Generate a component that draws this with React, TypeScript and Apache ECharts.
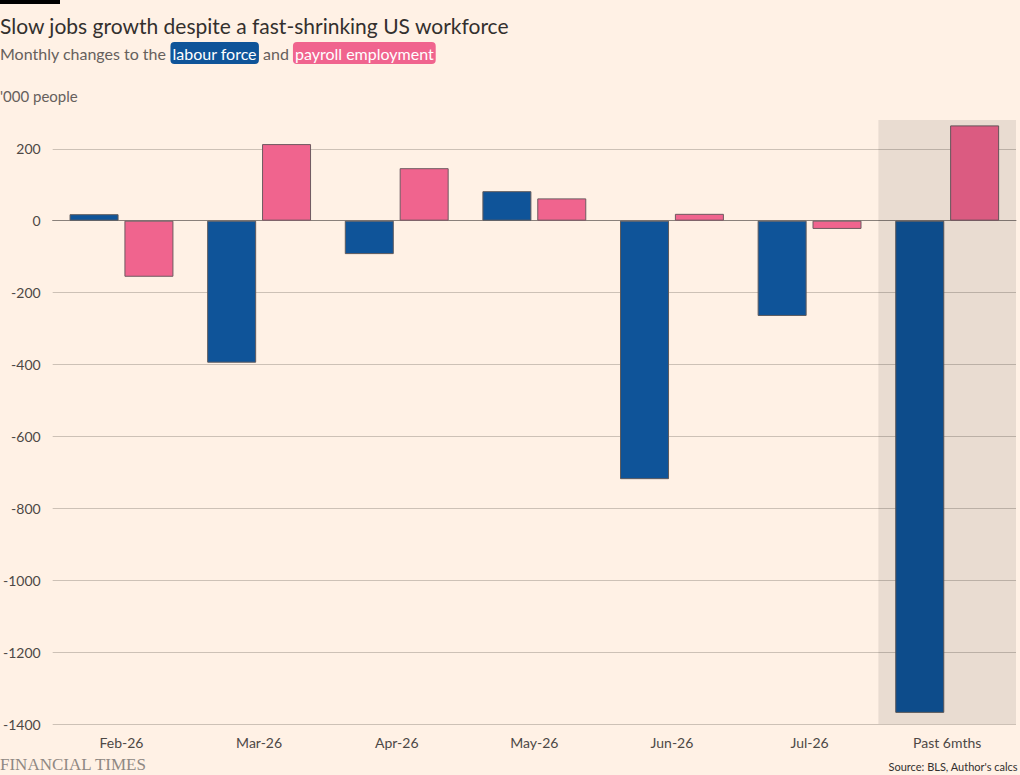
import React, { useEffect, useRef } from "react";
import * as echarts from "echarts";

const categories = ["Feb-26", "Mar-26", "Apr-26", "May-26", "Jun-26", "Jul-26", "Past 6mths"];
const labourForce = [18, -395, -93, 82, -719, -265, -1369];
const payroll = [-156, 213, 146, 62, 19, -23, 265];
// shaded "Past 6mths" band, top and bottom of the value axis
const shadeTop = [null, null, null, null, null, null, 280];
const shadeBottom = [null, null, null, null, null, null, -1400];

const yMin = -1400;
const yMax = 280;
const yStep = 200;

const FONT = "Lato, 'Open Sans', sans-serif";

const App: React.FC = () => {
  const chartRef = useRef<HTMLDivElement>(null);

  useEffect(() => {
    if (!chartRef.current) return;
    const chart = echarts.init(chartRef.current, null, { renderer: "svg" });

    const option: echarts.EChartsOption = {
      animation: false,
      backgroundColor: "#FFF1E5",
      textStyle: { fontFamily: FONT },
      grid: { left: 49, right: 4, top: 120, bottom: 51 },
      xAxis: [
        {
          type: "category",
          data: categories,
          axisLine: { lineStyle: { color: "#8a817b", width: 1 } },
          axisTick: { alignWithLabel: true, length: 6, lineStyle: { color: "#8a817b" } },
          axisLabel: { color: "#4d4845", fontSize: 14, margin: 11, fontFamily: FONT },
        },
        {
          type: "category",
          data: categories,
          show: false,
        },
      ],
      yAxis: {
        type: "value",
        min: yMin,
        max: yMax,
        interval: yStep,
        axisLine: { show: false },
        axisTick: { show: false },
        axisLabel: {
          color: "#4d4845",
          fontSize: 14,
          margin: 12,
          fontFamily: FONT,
          showMaxLabel: false,
          formatter: (v: number) => (v > 200 ? "" : String(v)),
        },
        splitLine: {
          showMaxLine: false,
          lineStyle: { color: "#cdc1b6", width: 1 },
        },
      } as any,
      series: [
        {
          name: "labour force",
          type: "bar",
          data: labourForce,
          barWidth: 49,
          barGap: "12%",
          itemStyle: { color: "#0F5499", borderColor: "#5e5a5c", borderWidth: 1 },
          z: 2,
        },
        {
          name: "payroll employment",
          type: "bar",
          data: payroll,
          barWidth: 49,
          barGap: "12%",
          itemStyle: { color: "#F0648E", borderColor: "#6e5a60", borderWidth: 1 },
          z: 2,
        },
        {
          name: "shadeTop",
          type: "bar",
          xAxisIndex: 1,
          data: shadeTop,
          barWidth: "100%",
          barGap: "-100%",
          itemStyle: { color: "rgba(0,0,0,0.085)" },
          silent: true,
          z: 5,
        },
        {
          name: "shadeBottom",
          type: "bar",
          xAxisIndex: 1,
          data: shadeBottom,
          barWidth: "100%",
          barGap: "-100%",
          itemStyle: { color: "rgba(0,0,0,0.085)" },
          silent: true,
          z: 5,
        },
      ],
      graphic: [
        { type: "rect", left: 0, top: 0, shape: { width: 60, height: 4 }, style: { fill: "#000" } },
        {
          type: "text",
          left: 0,
          top: 15,
          style: {
            text: "Slow jobs growth despite a fast-shrinking US workforce",
            fill: "#33302e",
            font: `21px ${FONT}`,
          },
        },
        {
          type: "text",
          left: 0,
          top: 42,
          style: {
            text: "Monthly changes to the {a|labour force} and {b|payroll employment}",
            fill: "#66605c",
            font: `16px ${FONT}`,
            rich: {
              a: {
                backgroundColor: "#0F5499",
                fill: "#ffffff",
                borderRadius: 4,
                padding: [3, 2, 3, 2],
                fontSize: 16,
                fontFamily: FONT,
              } as any,
              b: {
                backgroundColor: "#F0648E",
                fill: "#ffffff",
                borderRadius: 4,
                padding: [3, 2, 3, 2],
                fontSize: 16,
                fontFamily: FONT,
              } as any,
            },
          },
        },
        {
          type: "text",
          left: 0,
          top: 88,
          style: { text: "'000 people", fill: "#66605c", font: `15px ${FONT}` },
        },
        {
          type: "text",
          left: 0,
          top: 756,
          style: {
            text: "FINANCIAL TIMES",
            fill: "#8f8883",
            font: "17px 'Liberation Serif', 'DejaVu Serif', serif",
          },
        },
        {
          type: "text",
          right: 2,
          top: 761,
          style: { text: "Source: BLS, Author's calcs", fill: "#33302e", font: `11px ${FONT}` },
        },
      ],
    };

    chart.setOption(option);
    return () => chart.dispose();
  }, []);

  return (
    <div
      ref={chartRef}
      style={{ position: "fixed", left: 0, top: 0, width: "1020px", height: "775px" }}
    />
  );
};

export default App;
